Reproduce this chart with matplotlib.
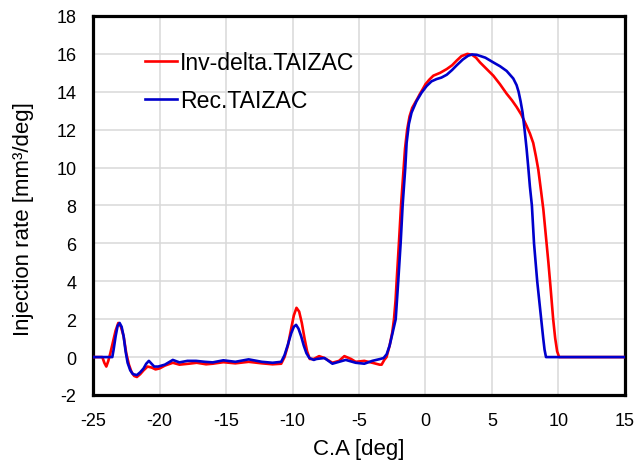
import matplotlib.pyplot as plt
import numpy as np

plt.rcParams['font.family'] = ['Liberation Sans', 'DejaVu Sans']
plt.rcParams['axes.unicode_minus'] = False

# Inv-delta.TAIZAC (red)
x_inv = [-25, -24.3, -24.15, -24.0, -23.85, -23.7, -23.5, -23.3, -23.1, -22.9, -22.7, -22.5,
         -22.3, -22.1, -21.9, -21.7, -21.45, -21.2, -20.9, -20.6, -20.3, -20.0, -19.6, -19.0,
         -18.5, -17.8, -17.2, -16.5, -16.0, -15.2, -14.3, -13.3, -12.3, -11.5, -10.85, -10.6,
         -10.35, -10.1, -9.9, -9.7, -9.5, -9.3, -9.1, -8.9, -8.7, -8.4, -8.0, -7.6, -7.0, -6.5,
         -6.1, -5.6, -5.25, -4.6, -4.0, -3.45, -3.3, -3.1, -2.93, -2.7, -2.5, -2.37, -2.25,
         -2.17, -2.0, -1.84, -1.64, -1.54, -1.38, -1.2, -1.0, -0.88, -0.6, -0.41, -0.2, 0.0,
         0.3, 0.59, 1.1, 1.6, 2.0, 2.35, 2.7, 3.15, 3.5, 3.8, 4.1, 4.6, 5.1, 5.6, 6.1, 6.5,
         6.85, 7.2, 7.6, 7.85, 8.1, 8.3, 8.48, 8.7, 8.86, 9.05, 9.24, 9.4, 9.6, 9.75, 9.9,
         10.05, 11, 13, 15]
y_inv = [0, 0, -0.3, -0.5, -0.2, 0.2, 0.8, 1.4, 1.8, 1.6, 1.1, 0.2,
         -0.4, -0.8, -1.0, -1.05, -0.9, -0.7, -0.5, -0.55, -0.65, -0.6, -0.45, -0.3,
         -0.4, -0.35, -0.3, -0.38, -0.35, -0.27, -0.33, -0.25, -0.33, -0.38, -0.35, 0.0,
         0.6, 1.5, 2.2, 2.6, 2.4, 1.8, 1.0, 0.3, -0.1, -0.1, 0.05, -0.05, -0.3, -0.2,
         0.05, -0.1, -0.25, -0.2, -0.3, -0.4, -0.4, -0.15, 0.0, 0.6, 1.3, 2.0, 3.0,
         4.0, 6.0, 8.0, 10.0, 11.0, 12.0, 12.7, 13.15, 13.3, 13.65, 13.9, 14.15, 14.4,
         14.65, 14.85, 15.0, 15.2, 15.4, 15.65, 15.88, 16.0, 15.95, 15.8, 15.55, 15.2, 14.85, 14.4, 13.9, 13.55,
         13.2, 12.8, 12.2, 11.8, 11.3, 10.6, 9.9, 8.7, 7.8, 6.4, 5.0, 3.7, 2.0, 1.0, 0.3,
         0, 0, 0, 0]

# Rec.TAIZAC (blue)
x_rec = [-25, -23.55, -23.45, -23.3, -23.15, -23.0, -22.85, -22.7, -22.55, -22.4, -22.2, -22.0,
         -21.7, -21.45, -21.2, -21.0, -20.8, -20.6, -20.4, -20.1, -19.6, -19.0, -18.5, -17.9,
         -17.25, -16.6, -16.0, -15.2, -14.3, -13.3, -12.3, -11.5, -10.85, -10.6, -10.35, -10.1,
         -9.9, -9.73, -9.55, -9.35, -9.15, -8.95, -8.73, -8.4, -8.2, -7.6, -7.0, -6.5, -6.0,
         -5.25, -4.6, -4.0, -3.4, -3.15, -2.92, -2.7, -2.5, -2.24, -2.05, -1.87, -1.72, -1.52,
         -1.42, -1.25, -1.05, -0.68, -0.3, 0.08, 0.45, 0.83, 1.2, 1.6, 2.0, 2.35, 2.8, 3.2,
         3.5, 3.85, 4.5, 5.1, 5.6, 6.1, 6.6, 6.85, 7.0, 7.15, 7.3, 7.45, 7.6, 7.73, 7.85, 8.0,
         8.08, 8.16, 8.28, 8.4, 8.55, 8.7, 8.85, 8.95, 9.06, 11, 13, 15]
y_rec = [0, 0, 0.4, 1.1, 1.65, 1.8, 1.6, 1.1, 0.3, -0.3, -0.7, -0.9,
         -0.95, -0.8, -0.6, -0.35, -0.2, -0.35, -0.5, -0.5, -0.4, -0.15, -0.28, -0.2,
         -0.2, -0.25, -0.28, -0.17, -0.25, -0.12, -0.25, -0.3, -0.25, 0.1, 0.65, 1.25,
         1.6, 1.7, 1.5, 1.1, 0.6, 0.2, -0.05, -0.15, -0.1, -0.05, -0.35, -0.25, -0.15,
         -0.3, -0.35, -0.2, -0.1, -0.05, 0.15, 0.6, 1.2, 2.0, 4.0, 6.0, 8.0, 10.0,
         11.3, 12.3, 12.9, 13.5, 13.95, 14.3, 14.55, 14.67, 14.75, 14.9, 15.15, 15.4, 15.7, 15.9,
         15.97, 15.95, 15.8, 15.55, 15.35, 15.1, 14.7, 14.35, 14.0, 13.5, 12.9, 12.0, 11.0, 10.0, 9.0, 8.0,
         7.0, 6.0, 5.0, 4.0, 3.0, 2.0, 1.0, 0.4, 0, 0, 0, 0]

x_ticks = [-25, -20, -15, -10, -5, 0, 5, 10, 15]
y_ticks = [-2, 0, 2, 4, 6, 8, 10, 12, 14, 16, 18]

fig = plt.figure(figsize=(6.38, 4.64), dpi=100)
ax = fig.add_axes([0.1458, 0.1466, 0.8338, 0.8168])

ax.plot(x_inv, y_inv, color='#ff0000', lw=1.9, label='Inv-delta.TAIZAC', zorder=3,
        solid_joinstyle='round')
ax.plot(x_rec, y_rec, color='#0000cc', lw=1.9, label='Rec.TAIZAC', zorder=4,
        solid_joinstyle='round')

ax.set_xlim(-25, 15)
ax.set_ylim(-2, 18)
ax.set_xticks(x_ticks)
ax.set_yticks(y_ticks)
ax.grid(True, color='#d9d9d9', lw=1.1)
ax.set_axisbelow(True)
ax.tick_params(length=0, labelsize=13)
ax.tick_params(axis='y', pad=12)
ax.tick_params(axis='x', pad=12)
for s in ax.spines.values():
    s.set_linewidth(2.3)
    s.set_color('black')

ax.set_xlabel('C.A [deg]', fontsize=16, labelpad=7)
ax.set_ylabel('Injection rate [mm³/deg]', fontsize=16)
ax.yaxis.set_label_coords(-0.111, 0.466)

ax.legend(loc='upper left', bbox_to_anchor=(0.058, 0.962), frameon=False, fontsize=16.6,
          handlelength=1.4, handletextpad=0.15, labelspacing=0.63)

fig.savefig('out.png', dpi=100)
